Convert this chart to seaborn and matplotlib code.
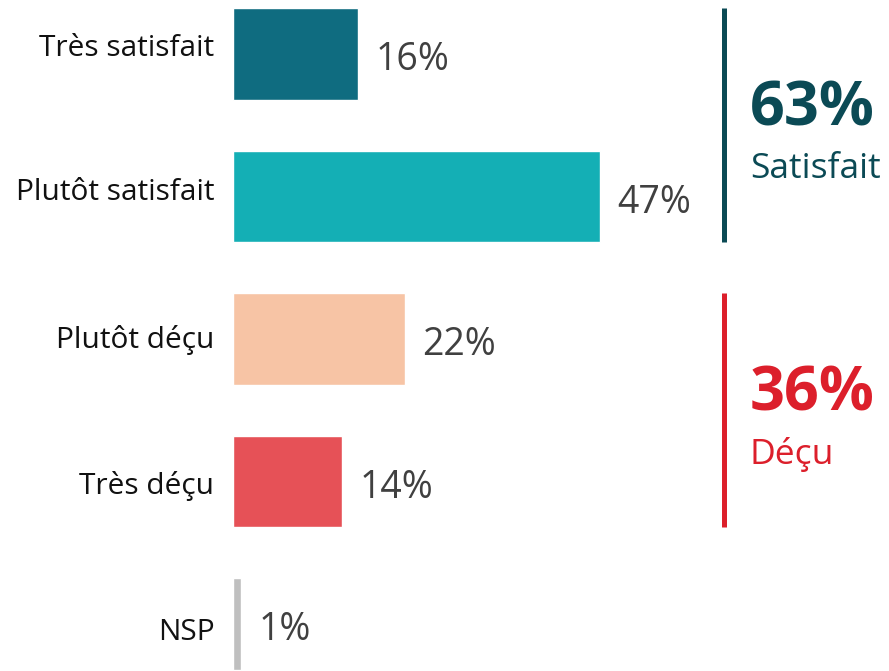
import seaborn as sns
import matplotlib.pyplot as plt
from matplotlib.transforms import blended_transform_factory, ScaledTranslation

categories = ['Très satisfait', 'Plutôt satisfait', 'Plutôt déçu', 'Très déçu', 'NSP']
values = [16, 47, 22, 14, 1]
bar_colors = ['#0F6C80', '#14AFB5', '#F7C4A5', '#E65157', '#BFBFBF']

group_totals = ['63%', '36%']
group_names = ['Satisfait', 'Déçu']
group_colors = ['#0B4A55', '#DC1F2B']
group_spans = [(0, 1), (2, 3)]  # category index ranges

sns.set_style('white')
plt.rcParams['font.family'] = ['Open Sans', 'DejaVu Sans']

fig = plt.figure(figsize=(8.89, 6.71), dpi=100)
ax = fig.add_axes([233 / 889, 0, 1 - 233 / 889, 1])

bar_w = 0.645
sns.barplot(x=values, y=categories, hue=categories, palette=bar_colors,
            legend=False, width=bar_w, orient='h', ax=ax, saturation=1)

ax.set_xlim(0, 84.1)
ax.set_ylim(4.33, -0.379)
sns.despine(ax=ax, left=True, bottom=True)
ax.set_xticks([])
ax.set_xlabel('')
ax.set_ylabel('')
ax.tick_params(axis='y', length=0, pad=13.5, labelsize=21.5, labelcolor='#111111')
# the category labels in the original drift slightly relative to the bars
nudges = [9, 7, 2, -1, -5]
for lab, dy in zip(ax.get_yticklabels(), nudges):
    lab.set_transform(lab.get_transform() + ScaledTranslation(0, dy / 100, fig.dpi_scale_trans))

# value labels
for i, v in enumerate(values):
    ax.annotate(f'{v}%', xy=(v, i), xytext=(12.5, -4.5), textcoords='offset points',
                ha='left', va='center', fontsize=27, color='#404040')

# group summaries on the right
tr = blended_transform_factory(ax.transAxes, ax.transData)
for (a, b), tot, name, col in zip(group_spans, group_totals, group_names, group_colors):
    ax.plot([0.748, 0.748], [a - bar_w / 2, b + bar_w / 2], transform=tr,
            color=col, lw=3.6, solid_capstyle='butt', clip_on=False)
    ax.text(0.788, a + 0.39, tot, transform=tr, ha='left', va='center',
            fontsize=44, fontweight='bold', color=col)
    ax.text(0.788, a + 0.81, name, transform=tr, ha='left', va='center',
            fontsize=25.5, color=col)

plt.savefig('out.png', dpi=100)
